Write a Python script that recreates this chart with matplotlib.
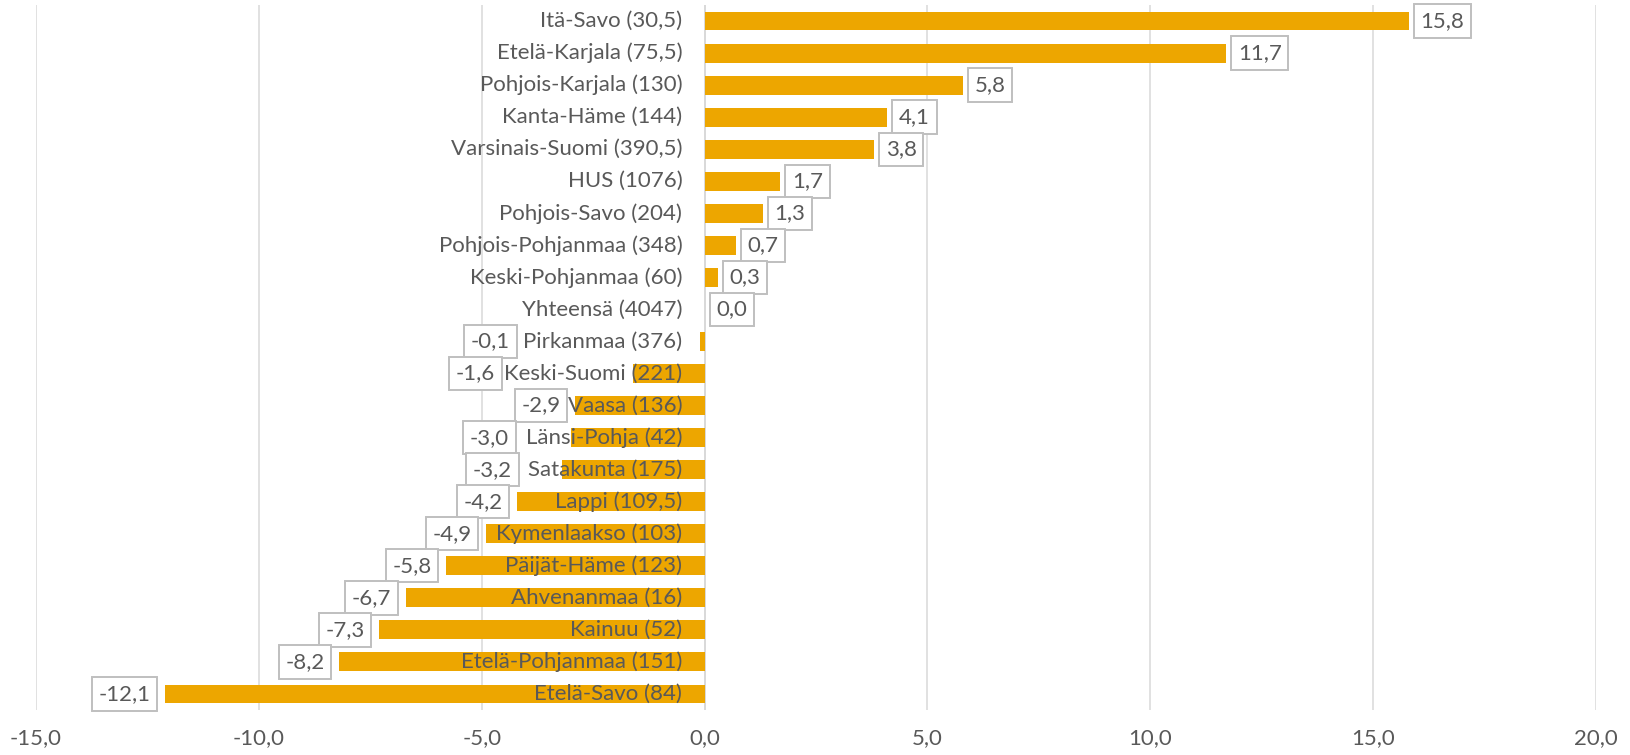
import matplotlib.pyplot as plt
from matplotlib.ticker import FuncFormatter

# alueet ja muutos (%), ylhäältä alas
alueet = ["Itä-Savo (30,5)", "Etelä-Karjala (75,5)", "Pohjois-Karjala (130)",
          "Kanta-Häme (144)", "Varsinais-Suomi (390,5)", "HUS (1076)",
          "Pohjois-Savo (204)", "Pohjois-Pohjanmaa (348)", "Keski-Pohjanmaa (60)",
          "Yhteensä (4047)", "Pirkanmaa (376)", "Keski-Suomi (221)", "Vaasa (136)",
          "Länsi-Pohja (42)", "Satakunta (175)", "Lappi (109,5)", "Kymenlaakso (103)",
          "Päijät-Häme (123)", "Ahvenanmaa (16)", "Kainuu (52)",
          "Etelä-Pohjanmaa (151)", "Etelä-Savo (84)"]
muutos = [15.8, 11.7, 5.8, 4.1, 3.8, 1.7, 1.3, 0.7, 0.3, 0.0, -0.1, -1.6, -2.9,
          -3.0, -3.2, -4.2, -4.9, -5.8, -6.7, -7.3, -8.2, -12.1]

# Excel siirsi osan arvoselitteistä vasemmalle (x-kohta)
siirretyt = {10: -4.04, 11: -4.37, 13: -4.06, 14: -3.99}

plt.rcParams['font.family'] = ['Lato', 'DejaVu Sans']
harmaa = '#595959'
koko = 16

fig = plt.figure(figsize=(16.31, 7.55), dpi=100)
ax = fig.add_axes([36 / 1631, 1 - 710 / 755, 1560 / 1631, 705 / 755])

y = list(range(len(alueet)))
ax.barh(y, muutos, height=0.59, color='#EDA600', zorder=2)

for i, (nimi, v) in enumerate(zip(alueet, muutos)):
    ax.annotate(nimi, xy=(0, i), xytext=(-16, 0), textcoords='offset points',
                ha='right', va='center', fontsize=koko, color=harmaa, zorder=3)
    teksti = f'{v:.1f}'.replace('.', ',')
    if i in siirretyt:
        x, dx, ha = siirretyt[i], -10.5, 'right'
    elif v >= 0:
        x, dx, ha = v, 8.4, 'left'
    else:
        x, dx, ha = v, -10.5, 'right'
    ax.annotate(teksti, xy=(x, i), xytext=(dx, 0), textcoords='offset points',
                ha=ha, va='center', fontsize=koko, color=harmaa, zorder=4,
                bbox=dict(boxstyle='square,pad=0.3', fc='white', ec='#bfbfbf', lw=1.4))

ax.set_xlim(-15, 20)
ax.set_ylim(len(alueet) - 0.5, -0.5)
ax.set_xticks(range(-15, 21, 5))
ax.xaxis.set_major_formatter(FuncFormatter(lambda v, p: f'{v:.1f}'.replace('.', ',')))
ax.tick_params(axis='x', length=0, pad=13, labelsize=koko, labelcolor=harmaa)
ax.set_yticks([])
ax.grid(axis='x', color='#d9d9d9', lw=1.1, zorder=0)
ax.axvline(0, color='#d9d9d9', lw=1.4, zorder=1)
for s in ax.spines.values():
    s.set_visible(False)

plt.savefig('out.png', dpi=100)
